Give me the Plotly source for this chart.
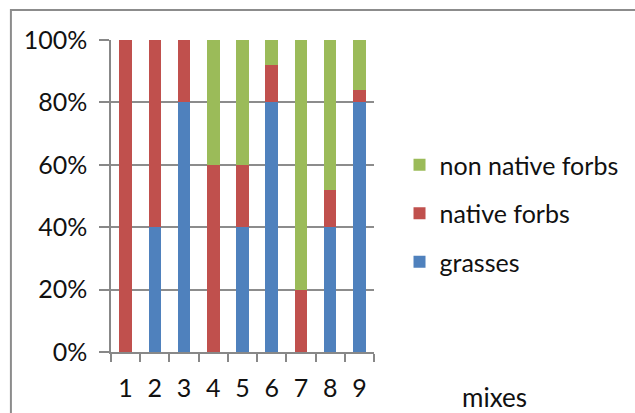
import plotly.graph_objects as go

# Share of each plant group in the nine seed mixes
mixes = ["1", "2", "3", "4", "5", "6", "7", "8", "9"]
grasses = [0, 40, 80, 0, 40, 80, 0, 40, 80]
native_forbs = [100, 60, 20, 60, 20, 12, 20, 12, 4]
non_native_forbs = [0, 0, 0, 40, 40, 8, 80, 48, 16]
y_ticks = [0, 20, 40, 60, 80, 100]
y_tick_labels = ["0%", "20%", "40%", "60%", "80%", "100%"]

FONT = "Lato"
FS = 25
TXT = "#111111"
W, H = 635, 413
ML, MR, MT, MB = 111, 256, 40, 61
PW, PH = W - ML - MR, H - MT - MB

# name, values, fill, legend rank (top of legend first)
series = [
    ("grasses", grasses, "#4F81BD", 3),
    ("native forbs", native_forbs, "#C0504D", 2),
    ("non native forbs", non_native_forbs, "#9BBB59", 1),
]

fig = go.Figure()
for name, vals, color, rank in series:
    fig.add_trace(go.Bar(
        x=mixes, y=vals, name=name, legendgroup=name, legendrank=rank,
        marker=dict(color=color, line=dict(width=0)),
    ))

def px_to_paper_x(px):
    return (px - ML) / PW

def px_to_paper_y(py):
    return (H - MB - py) / PH

fig.update_layout(
    width=W, height=H,
    margin=dict(l=ML, r=MR, t=MT, b=MB),
    barmode="stack", bargap=0.57,
    paper_bgcolor="white", plot_bgcolor="white",
    font=dict(family=FONT, size=FS, color=TXT),
    showlegend=True,
    legend=dict(
        traceorder="grouped", tracegroupgap=13,
        x=px_to_paper_x(405), y=px_to_paper_y(142),
        xanchor="left", yanchor="top",
        font=dict(family=FONT, size=FS, color=TXT),
        bgcolor="rgba(0,0,0,0)",
    ),
    xaxis=dict(
        type="category", showgrid=False,
        tickmode="array", tickvals=mixes, ticktext=mixes,
        showline=True, linecolor="#888888", linewidth=1.5,
        ticks="outside", tickson="boundaries", ticklen=8, tickcolor="#888888", tickwidth=1.5,
        ticklabelstandoff=13,
        tickfont=dict(family=FONT, size=FS, color=TXT),
    ),
    yaxis=dict(
        range=[0, 100], tickvals=y_ticks, ticktext=y_tick_labels,
        showgrid=True, gridcolor="#8c8c8c", gridwidth=1.5,
        showline=True, linecolor="#888888", linewidth=1.5,
        ticks="outside", ticklen=10, tickcolor="#888888", tickwidth=1.5,
        ticklabelstandoff=7, zeroline=False,
        tickfont=dict(family=FONT, size=FS, color=TXT),
    ),
    annotations=[dict(
        text="mixes", xref="paper", yref="paper",
        x=px_to_paper_x(502), y=px_to_paper_y(397),
        xanchor="center", yanchor="middle", showarrow=False,
        font=dict(family=FONT, size=FS + 1, color=TXT),
    )],
    shapes=[dict(
        type="rect", xref="paper", yref="paper",
        x0=px_to_paper_x(9), y0=px_to_paper_y(430),
        x1=px_to_paper_x(660), y1=px_to_paper_y(10),
        line=dict(color="#8c8c8c", width=2), layer="below",
    )],
)

fig.write_html("out.html")
